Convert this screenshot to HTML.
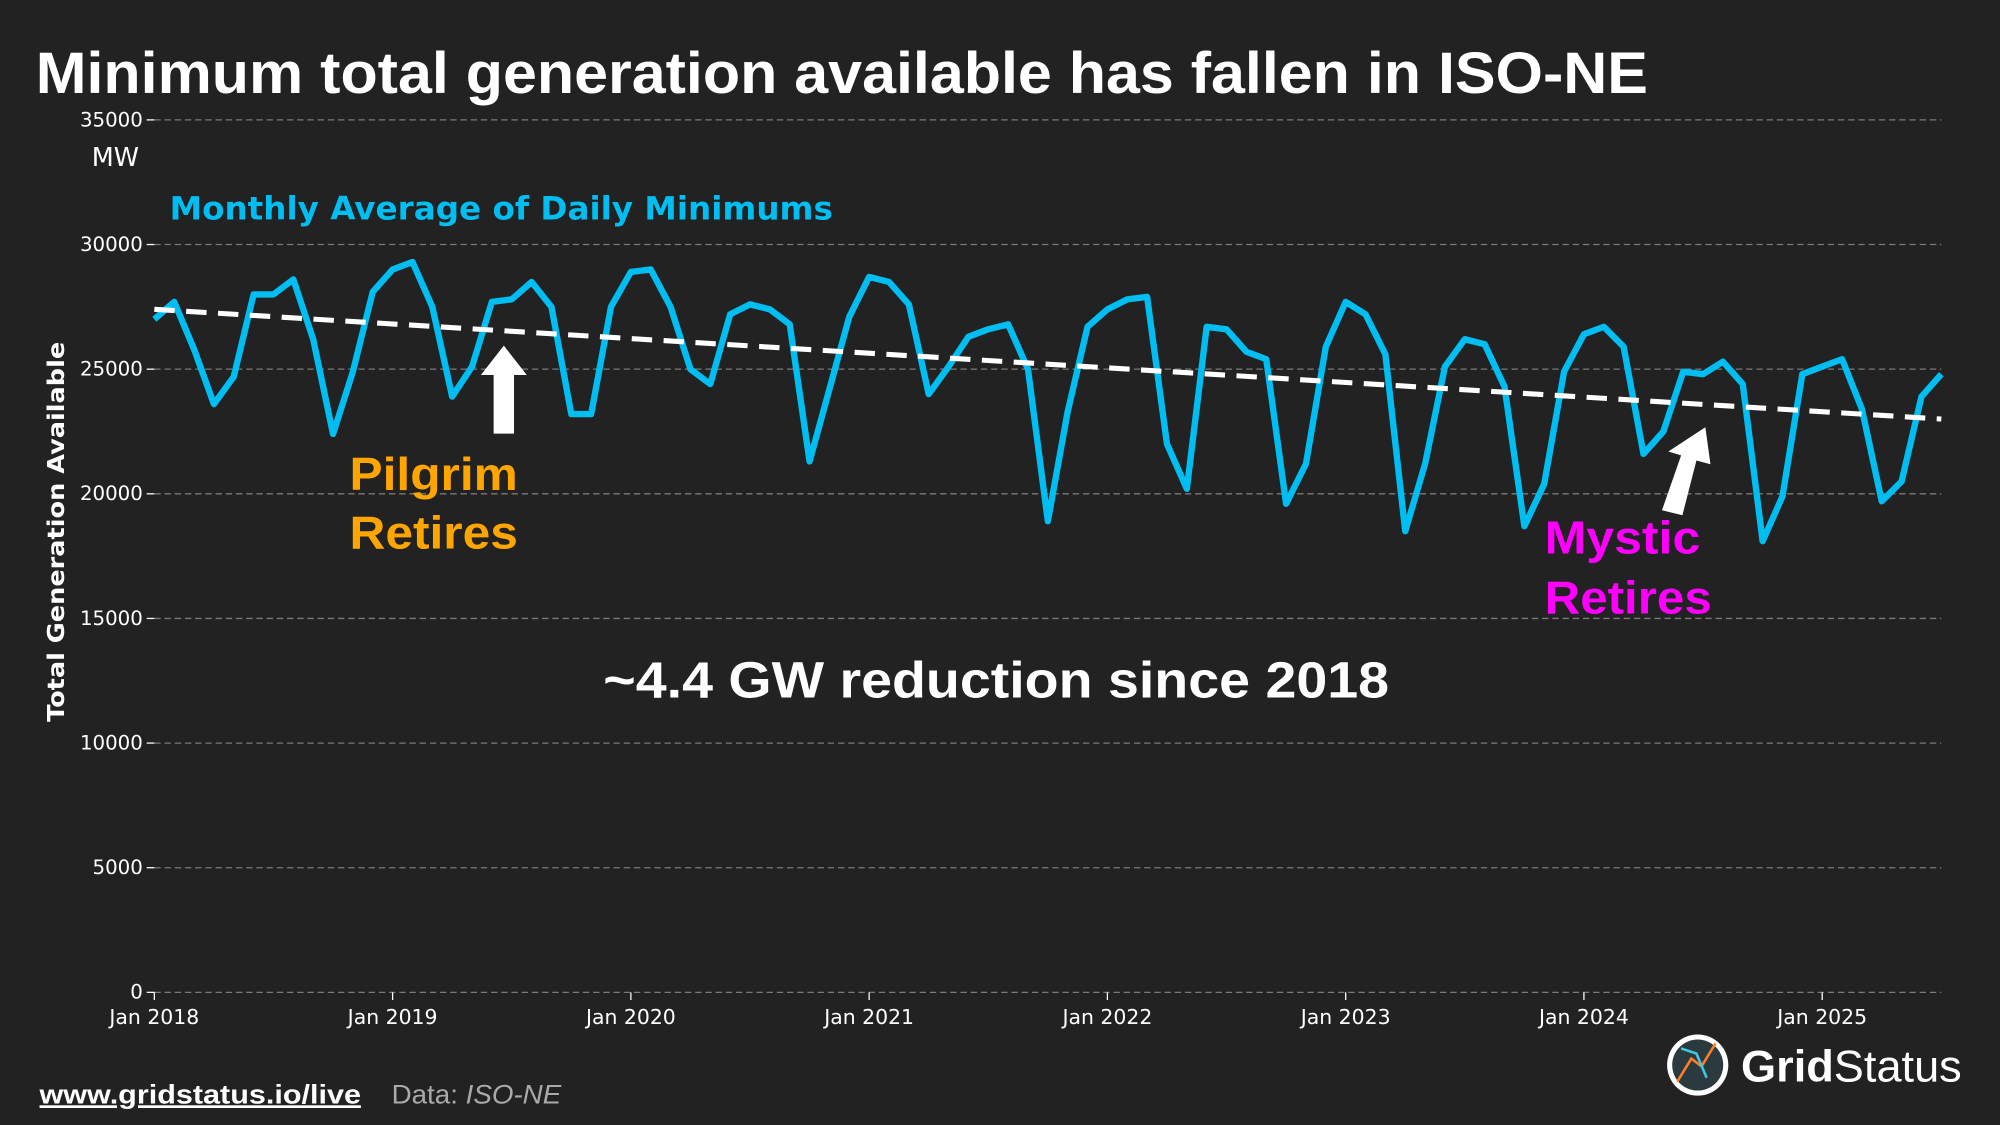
<!DOCTYPE html>
<html><head><meta charset="utf-8">
<style>
html,body{margin:0;padding:0;background:#222222;}
svg{display:block;}
text{font-family:"DejaVu Sans","Liberation Sans",sans-serif;}
text.ls{font-family:"Liberation Sans","DejaVu Sans",sans-serif;}
</style></head>
<body>
<svg id="chart" width="2000" height="1125" viewBox="0 0 1568 882" xmlns="http://www.w3.org/2000/svg">
<rect x="0" y="0" width="1568" height="882" fill="#222222"/>
<text class="ls" x="28" y="73" font-size="46" font-weight="bold" fill="#ffffff" textLength="1264" lengthAdjust="spacingAndGlyphs">Minimum total generation available has fallen in ISO-NE</text>
<g id="grid"></g>
<g id="yticks"></g>
<g id="xticks"></g>
<text x="109" y="130" font-size="20" fill="#ffffff" text-anchor="end">MW</text>
<text transform="translate(50,417) rotate(-90)" font-size="18" font-weight="bold" fill="#ffffff" text-anchor="middle" textLength="298" lengthAdjust="spacingAndGlyphs">Total Generation Available</text>
<text x="133" y="172" font-size="25" font-weight="bold" fill="#00bdf2" textLength="520" lengthAdjust="spacingAndGlyphs">Monthly Average of Daily Minimums</text>
<g id="series"></g>
<g>
<polygon points="387,340 403,340 403,294 413,294 395,271 377,294 387,294" fill="#ffffff"/>
<text class="ls" x="274" y="384" font-size="36" font-weight="bold" fill="#ffa500" textLength="132" lengthAdjust="spacingAndGlyphs">Pilgrim</text>
<text class="ls" x="274" y="430" font-size="36" font-weight="bold" fill="#ffa500" textLength="132" lengthAdjust="spacingAndGlyphs">Retires</text>
</g>
<g>
<polygon points="1303,400 1319,404 1330,361 1341,364 1337,335 1308,354 1318,357" fill="#ffffff"/>
<text class="ls" x="1211" y="434" font-size="36" font-weight="bold" fill="#ff00ff" textLength="122" lengthAdjust="spacingAndGlyphs">Mystic</text>
<text class="ls" x="1211" y="481" font-size="36" font-weight="bold" fill="#ff00ff" textLength="131" lengthAdjust="spacingAndGlyphs">Retires</text>
</g>
<text class="ls" x="473" y="547" font-size="40" font-weight="bold" fill="#ffffff" textLength="616" lengthAdjust="spacingAndGlyphs">~4.4 GW reduction since 2018</text>
<text class="ls" x="31" y="865" font-size="21" font-weight="bold" fill="#ffffff" text-decoration="underline" textLength="252" lengthAdjust="spacingAndGlyphs">www.gridstatus.io/live</text>
<text class="ls" x="307" y="865" font-size="21" fill="#aaaaaa" textLength="133" lengthAdjust="spacingAndGlyphs">Data: <tspan font-style="italic">ISO-NE</tspan></text>
<g>
<circle cx="1331" cy="835" r="24" fill="#ffffff"/>
<circle cx="1331" cy="835" r="20" fill="#2a3a3f"/>
<path d="M1315,848 L1326,830 L1334,836 L1345,818" stroke="#ff7f27" stroke-width="2" fill="none"/>
<path d="M1318,822 L1330,826 L1338,845" stroke="#40c8e0" stroke-width="2" fill="none"/>
<text class="ls" x="1365" y="848" font-size="35" fill="#ffffff" textLength="173" lengthAdjust="spacingAndGlyphs"><tspan font-weight="bold">Grid</tspan><tspan>Status</tspan></text>
</g>
</svg>
<script>
const yTicks = [0,5000,10000,15000,20000,25000,30000,35000];
const xTickLabels = ["Jan 2018","Jan 2019","Jan 2020","Jan 2021","Jan 2022","Jan 2023","Jan 2024","Jan 2025"];
const xTickMonths = [0,12,24,36,48,60,72,84];
const minGen = [
27.0,27.7,25.8,23.6,24.7,28.0,28.0,28.6,26.2,22.4,24.9,28.1,
29.0,29.3,27.5,23.9,25.1,27.7,27.8,28.5,27.5,23.2,23.2,27.5,
28.9,29.0,27.5,25.0,24.4,27.2,27.6,27.4,26.8,21.3,24.2,27.1,
28.7,28.5,27.6,24.0,25.1,26.3,26.6,26.8,25.0,18.9,23.3,26.7,
27.4,27.8,27.9,22.0,20.2,26.7,26.6,25.7,25.4,19.6,21.2,25.9,
27.7,27.2,25.6,18.5,21.2,25.1,26.2,26.0,24.3,18.7,20.4,24.9,
26.4,26.7,25.9,21.6,22.5,24.9,24.8,25.3,24.4,18.1,19.9,24.8,
25.1,25.4,23.4,19.7,20.5,23.9,24.8
];
const trendStart = 27.4;
const trendEnd = 23.0;

const NS = "http://www.w3.org/2000/svg";
const X0 = 121, X1 = 1522, Y0 = 778, Y1 = 94;
const nMonths = minGen.length - 1;
function xs(m){ return X0 + (X1 - X0) * m / nMonths; }
function ys(v){ return Y0 - (Y0 - Y1) * v / 35000; }
function mk(tag, attrs, parent){
  const e = document.createElementNS(NS, tag);
  for (const k in attrs) e.setAttribute(k, attrs[k]);
  parent.appendChild(e);
  return e;
}
const grid = document.getElementById('grid');
const yg = document.getElementById('yticks');
const xg = document.getElementById('xticks');
yTicks.forEach(v => {
  const y = ys(v);
  const gl = mk('line', {x1:X0, x2:X1, y1:y, y2:y, stroke:'#7a7a7a', 'stroke-width':1, 'stroke-dasharray':'5,3'}, grid);
  
  
  const tk = mk('line', {x1:X0-6, x2:X0, y1:y, y2:y, stroke:'#ffffff', 'stroke-width':1}, yg);
  
  
  const t = mk('text', {x:X0-9, y:y+5, 'font-size':15.5, fill:'#ffffff', 'text-anchor':'end'}, yg);
  
  
  t.textContent = v;
});
xTickMonths.forEach((m, i) => {
  const x = xs(m);
  const tk = mk('line', {x1:x, x2:x, y1:Y0, y2:Y0+6, stroke:'#ffffff', 'stroke-width':1}, xg);
  
  
  const t = mk('text', {x:x, y:Y0+25, 'font-size':16, fill:'#ffffff', 'text-anchor':'middle'}, xg);
  
  
  t.textContent = xTickLabels[i];
});
const sg = document.getElementById('series');
let d = '';
minGen.forEach((v, i) => { d += (i ? 'L' : 'M') + xs(i).toFixed(2) + ',' + ys(v * 1000).toFixed(2); });
const line = mk('path', {d:d, fill:'none', stroke:'#00bdf2', 'stroke-width':5, 'stroke-linejoin':'round'}, sg);


const tr = mk('line', {x1:xs(0), y1:ys(trendStart*1000), x2:xs(nMonths), y2:ys(trendEnd*1000), stroke:'#ffffff', 'stroke-width':4, 'stroke-dasharray':'16,9'}, sg);


</script>
</body></html>
